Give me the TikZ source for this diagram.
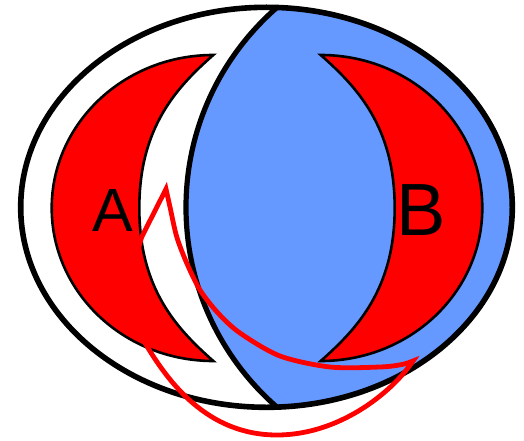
\documentclass[tikz,border=0pt]{standalone}
\usepackage{fontspec}
\setmainfont{Liberation Sans}
\definecolor{bluefill}{RGB}{102,153,255}
\definecolor{redfill}{RGB}{255,0,0}
\tikzset{
  outerline/.style={line width=5.6pt},
  splitline/.style={line width=5.2pt},
  crescent/.style={fill=redfill, draw=black, line width=2.6pt, line join=miter},
  redloop/.style={draw=redfill, line width=4.8pt, line join=miter, miter limit=20},
  letter/.style={anchor=base, inner sep=0pt, text=black}
}
\begin{document}
\begin{tikzpicture}[x=1pt,y=-1pt]
\useasboundingbox (0,0) rectangle (524,441);
% outer region
\fill[white] (0,0) rectangle (524,441);
% blue region and its boundary
\begin{scope}
  \clip (266.5,207.3) ellipse [x radius=245.8, y radius=200];
  \fill[bluefill] (451,207.3) circle [radius=265];
  \draw[splitline] (451,207.3) circle [radius=265];
\end{scope}
% left crescent A
\path[crescent] (213.3,55) arc[start angle=270, end angle=90, x radius=161.6, y radius=153]
  .. controls (175.8,328) and (139.3,288) .. (139.3,208)
  .. controls (139.3,128) and (175.8,88) .. (213.3,55) -- cycle;
% right crescent B
\path[crescent] (320.7,55) arc[start angle=-90, end angle=90, x radius=161.6, y radius=153]
  .. controls (358.2,328) and (394.7,288) .. (394.7,208)
  .. controls (394.7,128) and (358.2,88) .. (320.7,55) -- cycle;
% outer ellipse outline
\draw[outerline] (266.5,207.3) ellipse [x radius=245.8, y radius=200];
% labels
\node[letter, font=\fontsize{61}{61}\selectfont] (A) at (112.5,231.7) {A};
\node[letter, font=\fontsize{74}{74}\selectfont] (B) at (421.5,235.3) {B};
% red loop
\draw[redloop] (141.7,237) -- (166,189)
  -- plot[smooth] coordinates {(166,189) (170,207) (176.7,236.7) (186.7,263) (200,290) (218,313) (240,333) (280,356) (330,367) (380,367) (402,364.5) (413,361)}
  .. controls (390,395) and (337,435) .. (277,435)
  .. controls (207,435) and (168,381.7) .. (145,343)
  .. controls (133,320) and (131,270) .. (141.7,237) -- cycle;
\end{tikzpicture}
\end{document}
